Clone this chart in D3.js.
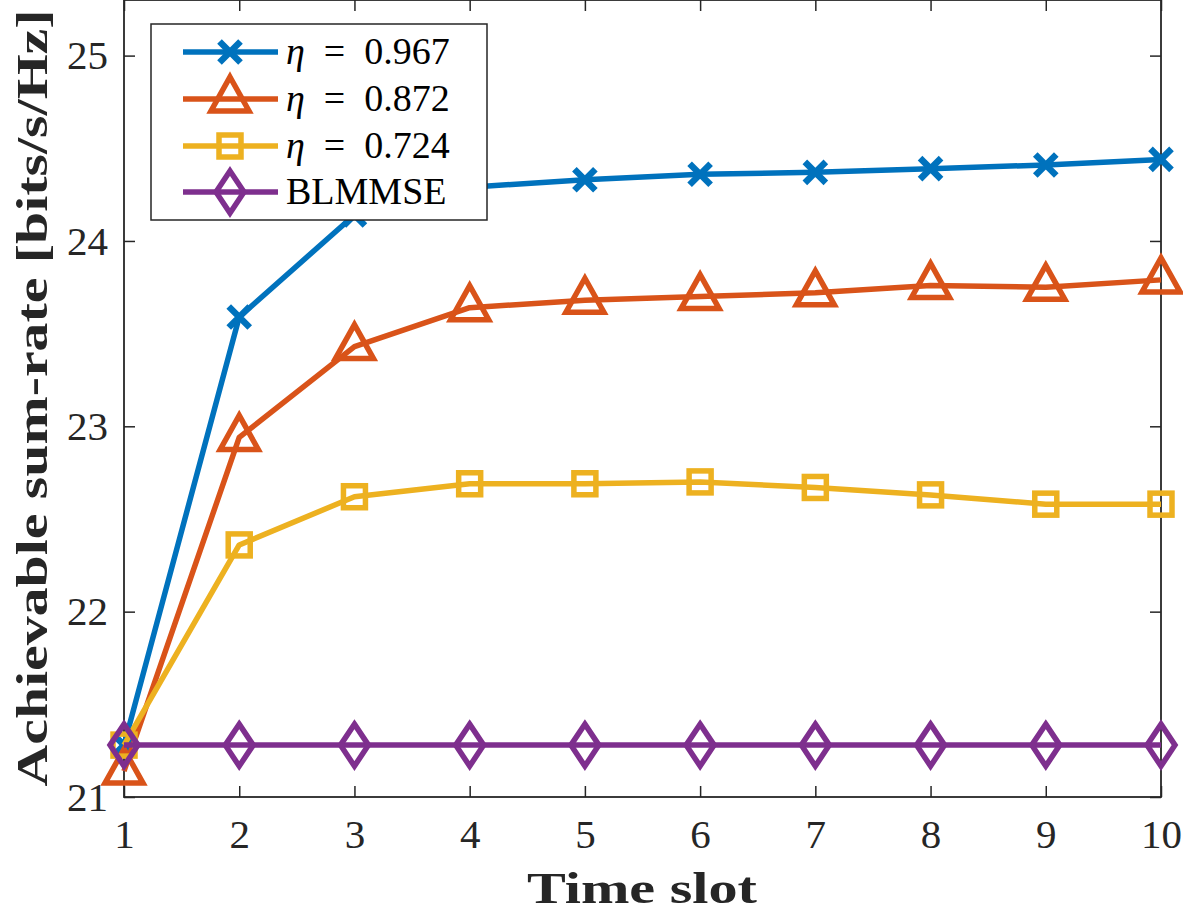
<!DOCTYPE html>
<html>
<head>
<meta charset="utf-8">
<script src="https://cdn.jsdelivr.net/npm/d3@7"></script>
<style>
  body { margin: 0; background: #fff; }
</style>
</head>
<body>
<svg id="chart" width="1183" height="912"></svg>
<script>
// data
const timeSlots = [1, 2, 3, 4, 5, 6, 7, 8, 9, 10];
const eta0967 = [21.28, 23.59, 24.14, 24.29, 24.33, 24.36, 24.37, 24.39, 24.41, 24.44];
const eta0872 = [21.14, 22.94, 23.43, 23.64, 23.68, 23.70, 23.72, 23.76, 23.75, 23.79];
const eta0724 = [21.28, 22.36, 22.62, 22.69, 22.69, 22.70, 22.67, 22.63, 22.58, 22.58];
const blmmse  = [21.28, 21.28, 21.28, 21.28, 21.28, 21.28, 21.28, 21.28, 21.28, 21.28];
const yTicks = [21, 22, 23, 24, 25];

const series = [
  { eta: '0.967', values: eta0967, color: '#0072BD', marker: 'cross' },
  { eta: '0.872', values: eta0872, color: '#D95319', marker: 'triangle' },
  { eta: '0.724', values: eta0724, color: '#EDB120', marker: 'square' },
  { label: 'BLMMSE', values: blmmse, color: '#7E2F8E', marker: 'diamond' }
];

const serif = '"Liberation Serif", "Times New Roman", serif';
const margin = { top: 0, right: 22, bottom: 115, left: 124 };
const width = 1183, height = 912;

const svg = d3.select('#chart');

const x = d3.scaleLinear().domain([1, 10]).range([margin.left, width - margin.right]);
const y = d3.scaleLinear().domain([21, 25.3]).range([height - margin.bottom, margin.top]);

const axisColor = '#262626';
const tickLen = 11;

// axes box (MATLAB style, ticks inward on all sides)
const x0 = x.range()[0], x1 = x.range()[1];
const y0 = y.range()[0], y1 = y.range()[1];

const xAxis = d3.axisBottom(x).tickValues(timeSlots).tickSize(-tickLen).tickPadding(22).tickFormat(d3.format('d'));
const yAxis = d3.axisLeft(y).tickValues(yTicks).tickSize(-tickLen).tickPadding(16).tickFormat(d3.format('d'));

const gx = svg.append('g').attr('transform', 'translate(0,' + y0 + ')').call(xAxis);
const gy = svg.append('g').attr('transform', 'translate(' + x0 + ',0)').call(yAxis);
const gxTop = svg.append('g').attr('transform', 'translate(0,' + y1 + ')')
  .call(d3.axisTop(x).tickValues(timeSlots).tickSize(-tickLen).tickFormat(''));
const gyRight = svg.append('g').attr('transform', 'translate(' + x1 + ',0)')
  .call(d3.axisRight(y).tickValues(yTicks).tickSize(-tickLen).tickFormat(''));

[gx, gy, gxTop, gyRight].forEach(g => {
  g.attr('font-family', serif).attr('font-size', 41);
  g.select('.domain').remove();
  g.selectAll('line').attr('stroke', axisColor).attr('stroke-width', 1.5);
  g.selectAll('text').attr('fill', axisColor);
});
gx.selectAll('text').attr('dy', '0.71em');

svg.append('rect')
  .attr('x', x0).attr('y', y1)
  .attr('width', x1 - x0).attr('height', y0 - y1)
  .attr('fill', 'none').attr('stroke', axisColor).attr('stroke-width', 1.8);

// axis titles
svg.append('text')
  .attr('x', 642).attr('y', 903)
  .attr('text-anchor', 'middle')
  .attr('font-family', serif).attr('font-size', 44).attr('font-weight', 'bold')
  .attr('fill', axisColor)
  .attr('textLength', 230).attr('lengthAdjust', 'spacingAndGlyphs')
  .text('Time slot');

svg.append('text')
  .attr('transform', 'translate(47,398) rotate(-90)')
  .attr('text-anchor', 'middle')
  .attr('font-family', serif).attr('font-size', 44).attr('font-weight', 'bold')
  .attr('fill', axisColor)
  .attr('textLength', 777).attr('lengthAdjust', 'spacingAndGlyphs')
  .text('Achievable sum-rate [bits/s/Hz]');

// markers
function drawMarker(g, type, color, cx, cy) {
  const sw = 5.5;
  if (type === 'cross') {
    const r = 10.5;
    g.append('path')
      .attr('d', `M${cx - r},${cy - r}L${cx + r},${cy + r}M${cx - r},${cy + r}L${cx + r},${cy - r}`)
      .attr('stroke', color).attr('stroke-width', 6.5).attr('fill', 'none');
  } else if (type === 'triangle') {
    g.append('path')
      .attr('d', `M${cx},${cy - 22}L${cx + 19},${cy + 12}L${cx - 19},${cy + 12}Z`)
      .attr('stroke', color).attr('stroke-width', sw).attr('fill', 'none')
      .attr('stroke-linejoin', 'miter');
  } else if (type === 'square') {
    const r = 11;
    g.append('rect')
      .attr('x', cx - r).attr('y', cy - r).attr('width', 2 * r).attr('height', 2 * r)
      .attr('stroke', color).attr('stroke-width', sw).attr('fill', 'none');
  } else if (type === 'diamond') {
    g.append('path')
      .attr('d', `M${cx},${cy - 21}L${cx + 14},${cy}L${cx},${cy + 21}L${cx - 14},${cy}Z`)
      .attr('stroke', color).attr('stroke-width', sw).attr('fill', 'none');
  }
}

const line = d3.line()
  .x((d, i) => x(timeSlots[i]))
  .y(d => y(d));

const plot = svg.append('g').attr('id', 'plot');

series.forEach(s => {
  const g = plot.append('g');
  g.append('path')
    .datum(s.values)
    .attr('d', line)
    .attr('fill', 'none')
    .attr('stroke', s.color)
    .attr('stroke-width', 5.5)
    .attr('stroke-linejoin', 'round');
  s.values.forEach((v, i) => drawMarker(g, s.marker, s.color, x(timeSlots[i]), y(v)));
});

// legend
const legend = svg.append('g').attr('id', 'legend');
legend.append('rect')
  .attr('x', 151).attr('y', 24).attr('width', 336).attr('height', 196)
  .attr('fill', '#fff').attr('stroke', axisColor).attr('stroke-width', 1.5);

const rowY = [52, 99, 146, 192];
series.forEach((s, i) => {
  const ly = rowY[i];
  legend.append('line')
    .attr('x1', 183).attr('x2', 278).attr('y1', ly).attr('y2', ly)
    .attr('stroke', s.color).attr('stroke-width', 5.5);
  drawMarker(legend, s.marker, s.color, 230, ly);
  const t = legend.append('text')
    .attr('x', 286).attr('y', ly + 12)
    .attr('font-family', serif).attr('font-size', 38)
    .attr('fill', '#000');
  if (s.eta) {
    t.append('tspan').attr('font-style', 'italic').text('η');
    t.append('tspan').text('\u2002=\u2002' + s.eta);
  } else {
    t.text(s.label);
  }
});
</script>
</body>
</html>
